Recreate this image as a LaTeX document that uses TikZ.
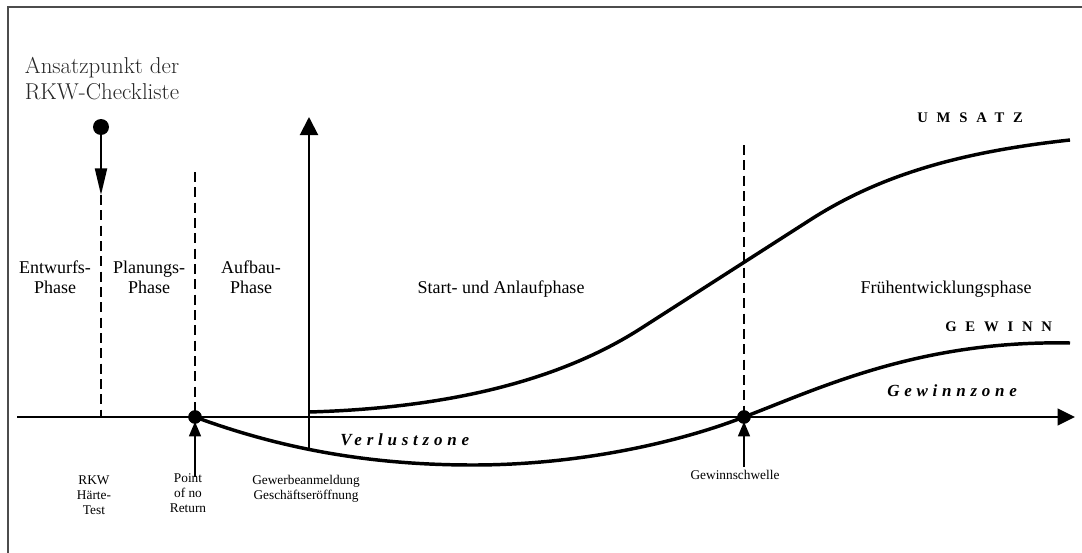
\documentclass[tikz,border=0pt]{standalone}
\usepackage{fontspec}
\setmainfont{Liberation Serif}
\newfontfamily\lmfont{Latin Modern Roman}
\usetikzlibrary{arrows.meta}
\begin{document}
\begin{tikzpicture}[x=0.75pt,y=-0.75pt,
  framel/.style={draw=black!70,line width=1.4pt},
  axisl/.style={line width=1.5pt},
  curvel/.style={line width=2.6pt,line join=round},
  dashl/.style={line width=1.5pt,dash pattern=on 7.5pt off 4pt},
  dotn/.style={circle,fill=black,inner sep=0pt,minimum size=#1},
  bigtip/.style={-{Triangle[length=13pt,width=12.5pt]}},
  vtip/.style={-{Triangle[length=13.5pt,width=13.5pt]}},
  longtip/.style={line width=1.5pt,-{Triangle[length=20pt,width=9pt]}},
  smalltip/.style={line width=1.1pt,-{Triangle[length=11pt,width=9pt]}},
  phase/.style={font=\fontsize{13.5pt}{15pt}\selectfont,align=center,inner sep=0pt},
  small/.style={font=\fontsize{10pt}{11.3pt}\selectfont,align=center,inner sep=0pt},
  caps/.style={font=\fontsize{11pt}{13pt}\selectfont\bfseries\addfontfeature{LetterSpace=60},inner sep=0pt,anchor=west},
  zone/.style={font=\fontsize{12.75pt}{14pt}\selectfont\bfseries\itshape\addfontfeature{LetterSpace=28},inner sep=0pt,anchor=west}
]
\useasboundingbox (0,0) rectangle (1082,553);
% frame (clipped)
\draw[framel] (8,553) -- (8,7) -- (1082,7);

% axes
\coordinate (xs) at (17,417);
\coordinate (xe) at (1075,417);
\draw[axisl,bigtip] (xs) -- (xe);
\coordinate (ys) at (309,451);
\coordinate (ye) at (309,117);
\draw[axisl,vtip] (ys) -- (ye);

% checklist entry point
\node[font=\lmfont\fontsize{17.2pt}{19.5pt}\selectfont,text=black!85,align=center,inner sep=0pt] (ansatz) at (102,79) {Ansatzpunkt der\\RKW-Checkliste};
\node[dotn=12pt] (d1) at (101,127) {};
\coordinate (c1) at (101,195);
\draw[longtip] (d1) -- (c1);

% dashed separators
\coordinate (c1b) at (101,417);
\draw[dashl] (c1) -- (c1b);
\coordinate (c2t) at (195,172);
\node[dotn=10pt] (d2) at (195,417) {};
\draw[dashl] (c2t) -- (d2.center);
\coordinate (c3t) at (744,145);
\node[dotn=10pt] (d3) at (744,417) {};
\draw[dashl] (c3t) -- (d3.center);

% curves
\draw[curvel] (309,412) .. controls (450,408) and (560,380) .. (640,329)
                        -- (810,220)
                        .. controls (880,175) and (960,152) .. (1070,140);
\draw[curvel] (d2.center) .. controls (290,452) and (380,465) .. (473,465)
                          .. controls (580,465) and (680,442) .. (d3.center)
                          .. controls (820,388) and (920,340) .. (1070,343);
\node[dotn=10pt] at (d2) {};
\node[dotn=10pt] at (d3) {};

% small up arrows
\coordinate (a2) at (195,477);
\draw[smalltip] (a2) -- ([yshift=-3.5pt]d2.center);
\coordinate (a3) at (744,467);
\draw[smalltip] (a3) -- ([yshift=-3.5pt]d3.center);

% phase labels
\node[phase] (p1) at (55,277) {Entwurfs-\\Phase};
\node[phase] (p2) at (149,277) {Planungs-\\Phase};
\node[phase] (p3) at (251,277) {Aufbau-\\Phase};
\node[phase,anchor=base] (p4) at (501,293) {Start- und Anlaufphase};
\node[phase,anchor=base] (p5) at (946,293) {Frühentwicklungsphase};

% curve labels
\node[caps] (umsatz) at (917,118) {UMSATZ};
\node[caps] (gewinn) at (945,327) {GEWINN};
\node[zone] (gz) at (887,391) {Gewinnzone};
\node[zone] (vz) at (340,440) {Verlustzone};

% bottom labels
\node[small] (l1) at (94,495) {RKW\\Härte-\\Test};
\node[small] (l2) at (188,493) {Point\\of no\\Return};
\node[small] (l3) at (306,489) {Gewerbeanmeldung\\Geschäftseröffnung};
\node[small,anchor=base] (l4) at (735,479) {Gewinnschwelle};
\end{tikzpicture}
\end{document}
